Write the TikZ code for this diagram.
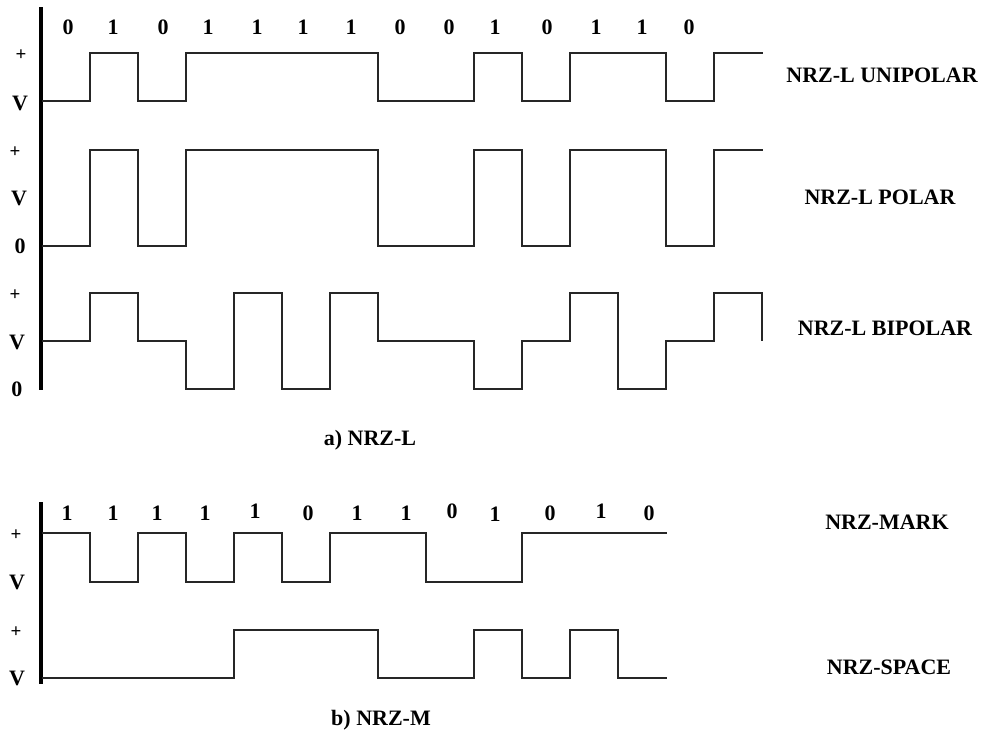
\documentclass[tikz,border=0pt]{standalone}
\usepackage{fontspec}
\setmainfont{Liberation Serif}
\begin{document}
\begin{tikzpicture}[x=1pt,y=-1pt,
  lbl/.style={font=\bfseries\fontsize{22}{22}\selectfont, inner sep=0pt, anchor=center},
  plus/.style={font=\bfseries\fontsize{19}{19}\selectfont, inner sep=0pt, anchor=center},
  wave/.style={line width=1.8pt, draw=black!85, line join=miter},
  axisline/.style={line width=3.6pt, draw=black}]
\useasboundingbox (0,0) rectangle (982,734);

% ---------- a) NRZ-L ----------
\draw[axisline] (41,7) -- (41,390);

% level labels
\node[plus] (p1) at (21,55) {+};
\node[lbl]  (v1) at (20,103) {V};
\node[plus] (p2) at (15,152) {+};
\node[lbl]  (v2) at (19,198) {V};
\node[lbl]  (z2) at (20,246) {0};
\node[plus] (p3) at (15,295) {+};
\node[lbl]  (v3) at (17,342) {V};
\node[lbl]  (z3) at (17,389) {0};

% bit labels
\foreach \b/\x [count=\i] in {0/68,1/113,0/163,1/208,1/257,1/303,1/351,0/400,0/449,1/495,0/547,1/596,1/642,0/689}
  \node[lbl] (ta\i) at (\x,27) {\b};

% unipolar
\draw[wave] (42,101)--(90,101)--(90,53)--(138,53)--(138,101)--(186,101)--(186,53)--(378,53)--(378,101)--(474,101)--(474,53)--(522,53)--(522,101)--(570,101)--(570,53)--(666,53)--(666,101)--(714,101)--(714,53)--(763,53);
% polar
\draw[wave] (42,246)--(90,246)--(90,150)--(138,150)--(138,246)--(186,246)--(186,150)--(378,150)--(378,246)--(474,246)--(474,150)--(522,150)--(522,246)--(570,246)--(570,150)--(666,150)--(666,246)--(714,246)--(714,150)--(763,150);
% bipolar
\draw[wave] (42,341)--(90,341)--(90,293)--(138,293)--(138,341)--(186,341)--(186,389)--(234,389)--(234,293)--(282,293)--(282,389)--(330,389)--(330,293)--(378,293)--(378,341)--(474,341)--(474,389)--(522,389)--(522,341)--(570,341)--(570,293)--(618,293)--(618,389)--(666,389)--(666,341)--(714,341)--(714,293)--(762,293)--(762,341);

\node[lbl] (uni) at (882,75)  {NRZ-L UNIPOLAR};
\node[lbl] (pol) at (880,197) {NRZ-L POLAR};
\node[lbl] (bip) at (885,328) {NRZ-L BIPOLAR};
\node[lbl] (capa) at (370,440) {a) NRZ-L};

% ---------- b) NRZ-M ----------
\draw[axisline] (41,502) -- (41,684);

\node[plus] (p4) at (16,535) {+};
\node[lbl]  (v4) at (17,582) {V};
\node[plus] (p5) at (16,632) {+};
\node[lbl]  (v5) at (17,678) {V};

\foreach \b/\x/\y [count=\i] in {1/67/513,1/113/513,1/157/513,1/205/513,1/255/511,0/308/513,1/357/513,1/406/513,0/452/511,1/495/514,0/550/513,1/601/511,0/649/513}
  \node[lbl] (tb\i) at (\x,\y) {\b};

% NRZ-MARK
\draw[wave] (42,533)--(90,533)--(90,582)--(138,582)--(138,533)--(186,533)--(186,582)--(234,582)--(234,533)--(282,533)--(282,582)--(330,582)--(330,533)--(426,533)--(426,582)--(522,582)--(522,533)--(667,533);
% NRZ-SPACE
\draw[wave] (42,678)--(234,678)--(234,630)--(378,630)--(378,678)--(474,678)--(474,630)--(522,630)--(522,678)--(570,678)--(570,630)--(618,630)--(618,678)--(667,678);

\node[lbl] (mark)  at (887,522) {NRZ-MARK};
\node[lbl] (space) at (889,667) {NRZ-SPACE};
\node[lbl] (capb)  at (381,720) {b) NRZ-M};
\end{tikzpicture}
\end{document}
